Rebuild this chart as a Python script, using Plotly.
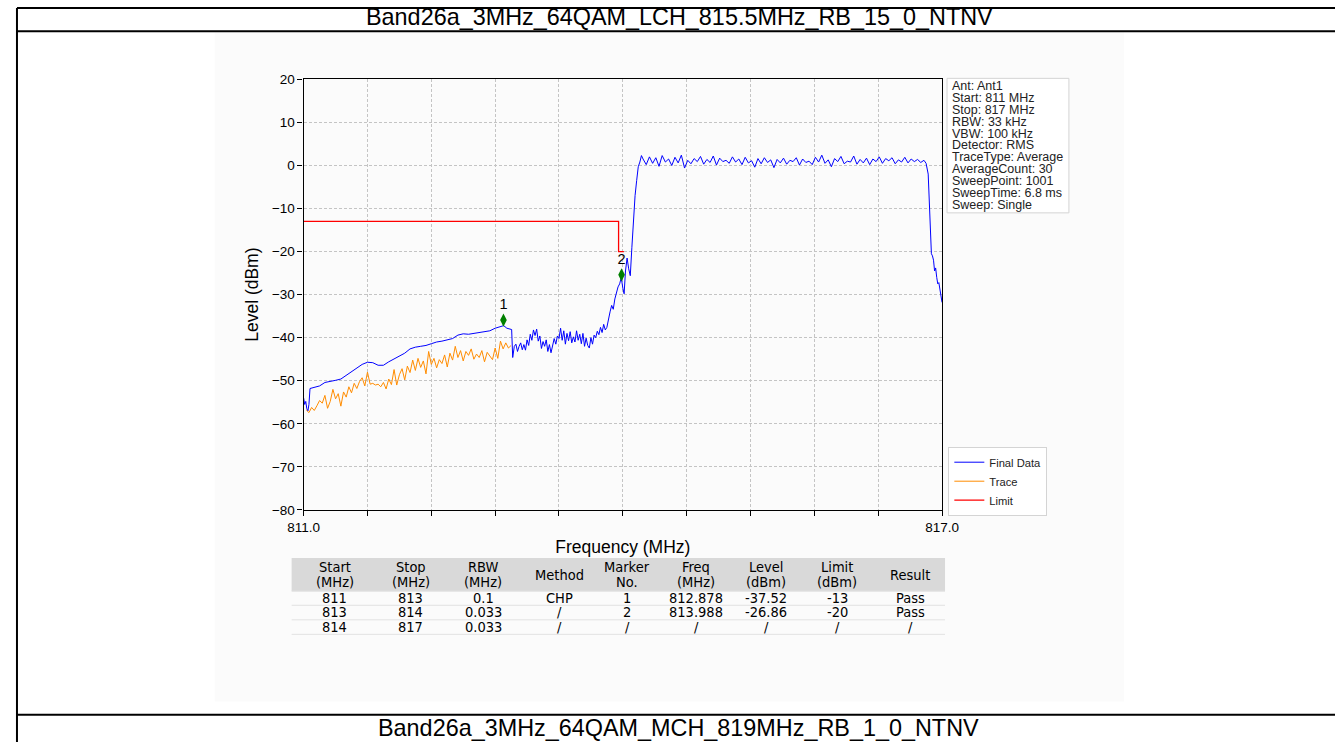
import plotly.graph_objects as go

# The photographed picture shows the page scaled by ~0.9765 and offset by (16, 8) px,
# so the figure is laid out in page pixels derived from the reference picture's pixels.
IMG_SCALE, IMG_OX, IMG_OY = 0.9765, 16.1, 7.9
FW, FH = 1352, 752

doc_title = "Band26a_3MHz_64QAM_LCH_815.5MHz_RB_15_0_NTNV"
next_title = "Band26a_3MHz_64QAM_MCH_819MHz_RB_1_0_NTNV"

# ---------------- data ----------------
final_freq = [
    811.00, 811.01, 811.02, 811.03, 811.04, 811.05, 811.06, 811.10, 811.15, 811.20,
    811.25, 811.30, 811.35, 811.40, 811.45, 811.50, 811.55, 811.60, 811.65, 811.70,
    811.75, 811.80, 811.85, 811.90, 811.95, 812.00, 812.05, 812.10, 812.15, 812.20,
    812.25, 812.30, 812.35, 812.40, 812.45, 812.50, 812.55, 812.60, 812.65, 812.70,
    812.75, 812.80, 812.85, 812.88, 812.91, 812.94, 812.955,
    812.965, 812.980, 812.995, 813.010, 813.025, 813.040, 813.055, 813.070, 813.085, 813.100,
    813.115, 813.130, 813.145, 813.160, 813.175, 813.190, 813.205, 813.220, 813.235, 813.250,
    813.265, 813.280, 813.295, 813.310, 813.325, 813.340, 813.355, 813.370, 813.385, 813.400,
    813.415, 813.430, 813.445, 813.460, 813.475, 813.490, 813.505, 813.520, 813.535, 813.550,
    813.565, 813.580, 813.595, 813.610, 813.625, 813.640, 813.655, 813.670, 813.685, 813.700,
    813.715, 813.730, 813.745, 813.760, 813.775, 813.790, 813.805, 813.820, 813.835, 813.850,
    813.865,
    813.880, 813.895, 813.910, 813.925, 813.940, 813.955, 813.970, 813.985, 814.000, 814.012,
    814.025, 814.040, 814.055, 814.070, 814.085, 814.100, 814.115, 814.130, 814.145, 814.160,
    814.175, 814.190,
    814.22, 814.25, 814.28, 814.31, 814.34, 814.37, 814.40, 814.43, 814.46, 814.49,
    814.52, 814.55, 814.58, 814.61, 814.64, 814.67, 814.70, 814.73, 814.76, 814.79,
    814.82, 814.85, 814.88, 814.91, 814.94, 814.97, 815.00, 815.03, 815.06, 815.09,
    815.12, 815.15, 815.18, 815.21, 815.24, 815.27, 815.30, 815.33, 815.36, 815.39,
    815.42, 815.45, 815.48, 815.51, 815.54, 815.57, 815.60, 815.63, 815.66, 815.69,
    815.72, 815.75, 815.78, 815.81, 815.84, 815.87, 815.90, 815.93, 815.96, 815.99,
    816.02, 816.05, 816.08, 816.11, 816.14, 816.17, 816.20, 816.23, 816.26, 816.29,
    816.32, 816.35, 816.38, 816.41, 816.44, 816.47, 816.50, 816.53, 816.56, 816.59,
    816.62, 816.65, 816.68, 816.71, 816.74, 816.77, 816.80, 816.83, 816.85,
    816.87, 816.88, 816.89, 816.90, 816.91, 816.92, 816.93, 816.94, 816.95, 816.96,
    816.97, 816.98, 816.99, 817.00,
]
final_level = [
    -54.0, -55.5, -54.8, -56.5, -57.0, -55.5, -51.8, -51.6, -51.2, -50.4,
    -50.2, -49.9, -49.6, -48.8, -48.0, -47.2, -46.2, -45.7, -45.8, -46.4,
    -46.4, -45.6, -44.9, -44.3, -43.6, -42.6, -42.2, -42.0, -41.8, -41.4,
    -41.0, -40.8, -40.5, -40.2, -39.4, -39.1, -39.2, -39.0, -38.8, -38.7,
    -38.4, -37.8, -37.4, -37.2, -37.8, -38.0, -38.1,
    -44.6, -42.0, -41.5, -43.2, -42.0, -41.2, -42.8, -41.6, -42.9, -40.5,
    -41.8, -39.2, -40.6, -38.2, -39.5, -38.0, -40.8, -39.6, -42.5, -40.9,
    -42.0, -40.5, -43.2, -41.6, -43.5, -42.0, -40.2, -41.5, -39.6, -40.2,
    -37.8, -40.6, -38.4, -41.5, -39.0, -40.7, -38.6, -41.2, -39.8, -41.0,
    -38.4, -40.6, -39.2, -41.4, -39.0, -42.0, -40.1, -41.8, -42.4, -40.0,
    -41.5, -39.4, -40.0, -38.5, -39.3, -37.6, -38.8, -36.9, -38.2, -37.6,
    -35.5,
    -34.0, -32.5, -33.4, -31.0, -29.5, -28.2, -27.5, -26.0, -28.5, -29.8,
    -24.5, -21.5, -24.0, -25.6, -19.0, -12.0, -7.0, -3.5, -0.3, 0.8,
    2.3, 1.5,
    0.2, 2.0, 0.5, 1.8, -0.2, 2.3, 0.8, 1.5, 0.0, 1.9,
    0.6, 2.4, -0.6, 1.2, 0.4, 1.6, 0.9, 2.1, 0.3, 1.4,
    0.7, 2.2, 0.1, 1.7, 0.9, 1.2, 0.5, 2.0, 0.8, 1.5,
    0.2, 1.9, 0.6, 1.1, -0.4, 1.6, 0.4, 1.8, 0.7, 1.3,
    -0.5, 1.4, 0.6, 1.7, 0.3, 1.2, 0.9, 1.8, 0.1, 1.5,
    0.7, 1.0, 0.2, 1.9, 0.8, 2.4, 0.5, 1.3, -0.3, 1.6,
    0.9, 2.1, 0.4, 1.0, 0.8, 2.2, 0.3, 1.4, 0.6, 1.7,
    0.2, 1.5, 0.9, 2.0, 0.5, 1.6, 1.1, 1.8, 0.4, 1.3,
    0.8, 1.9, 0.6, 1.5, 0.9, 1.4, 0.7, 1.2, 0.5,
    -2.0, -8.0, -15.0, -20.5, -21.0, -22.0, -24.5, -23.8, -26.0, -27.5,
    -27.2, -29.0, -30.5, -31.8,
]

trace_freq = [
    811.025, 811.050, 811.075, 811.100, 811.125, 811.150, 811.175, 811.200, 811.225, 811.250,
    811.275, 811.300, 811.325, 811.350, 811.375, 811.400, 811.425, 811.450, 811.475, 811.500,
    811.525, 811.550, 811.575, 811.600, 811.625, 811.650, 811.675, 811.700, 811.725, 811.750,
    811.775, 811.800, 811.825, 811.850, 811.875, 811.900, 811.925, 811.950, 811.975, 812.000,
    812.025, 812.050, 812.075, 812.100, 812.125, 812.150, 812.175, 812.200, 812.225, 812.250,
    812.275, 812.300, 812.325, 812.350, 812.375, 812.400, 812.425, 812.450, 812.475, 812.500,
    812.525, 812.550, 812.575, 812.600, 812.625, 812.650, 812.675, 812.700, 812.725, 812.750,
    812.775, 812.800, 812.825, 812.850, 812.875, 812.900, 812.925, 812.950,
]
trace_level = [
    -56.8, -57.4, -56.2, -56.9, -55.8, -54.6, -55.2, -53.4, -56.4, -54.8,
    -52.0, -54.2, -53.0, -55.9, -52.6, -53.8, -51.4, -52.8, -50.6, -51.8,
    -50.2, -49.3, -51.2, -48.0, -50.8, -50.6, -51.0, -50.8, -51.4, -50.4,
    -51.9, -49.6, -50.9, -47.4, -51.0, -48.6, -47.2, -49.8, -46.6, -48.1,
    -45.2, -47.6, -44.8, -46.9, -45.4, -48.4, -43.2, -46.2, -44.8, -47.0,
    -45.1, -46.0, -44.0, -46.8, -43.6, -45.2, -42.0, -44.6, -43.0, -45.4,
    -43.2, -44.1, -42.6, -45.0, -43.8, -44.6, -43.0, -45.6, -43.4, -44.2,
    -45.1, -42.4, -44.8, -40.8, -42.6, -41.2, -42.4, -41.8,
]

limit_freq = [811.0, 813.96, 813.96, 814.01]
limit_level = [-13.0, -13.0, -20.0, -20.0]

marker_freq = [812.878, 813.988]
marker_level = [-35.9, -25.4]
marker_label = ["1", "2"]

x_tick_vals = [811.0, 811.6, 812.2, 812.8, 813.4, 814.0, 814.6, 815.2, 815.8, 816.4, 817.0]
x_tick_text = ["811.0", "", "", "", "", "", "", "", "", "", "817.0"]
y_tick_vals = [-80, -70, -60, -50, -40, -30, -20, -10, 0, 10, 20]

info_lines = [
    "Ant: Ant1", "Start: 811 MHz", "Stop: 817 MHz", "RBW: 33 kHz", "VBW: 100 kHz",
    "Detector: RMS", "TraceType: Average", "AverageCount: 30", "SweepPoint: 1001",
    "SweepTime: 6.8 ms", "Sweep: Single",
]

table_header = [["Start", "(MHz)"], ["Stop", "(MHz)"], ["RBW", "(MHz)"], ["Method"],
                ["Marker", "No."], ["Freq", "(MHz)"], ["Level", "(dBm)"], ["Limit", "(dBm)"],
                ["Result"]]
col_start = ["811", "813", "814"]
col_stop = ["813", "814", "817"]
col_rbw = ["0.1", "0.033", "0.033"]
col_method = ["CHP", "/", "/"]
col_marker = ["1", "2", "/"]
col_freq = ["812.878", "813.988", "/"]
col_level = ["-37.52", "-26.86", "/"]
col_limit = ["-13", "-20", "/"]
col_result = ["Pass", "Pass", "/"]
table_columns = [col_start, col_stop, col_rbw, col_method, col_marker,
                 col_freq, col_level, col_limit, col_result]

# ---------------- helpers (reference-picture pixel -> paper) ----------------
def px(xi):
    return ((xi - IMG_OX) / IMG_SCALE) / FW

def py(yi):
    return 1 - ((yi - IMG_OY) / IMG_SCALE) / FH

SANS = "Liberation Sans, Arial, sans-serif"
NARROW = "Liberation Sans Narrow, Arial Narrow, DejaVu Sans Condensed, sans-serif"

fig = go.Figure()

fig.add_trace(go.Scatter(x=final_freq, y=final_level, mode="lines", name="Final Data",
                         line=dict(color="#0000ff", width=1)))
fig.add_trace(go.Scatter(x=trace_freq, y=trace_level, mode="lines", name="Trace",
                         line=dict(color="#ff8c00", width=1)))
fig.add_trace(go.Scatter(x=limit_freq, y=limit_level, mode="lines", name="Limit",
                         line=dict(color="#ff0000", width=1.3)))
fig.add_trace(go.Scatter(x=marker_freq, y=marker_level, mode="markers+text", text=marker_label,
                         textposition="top center", showlegend=False,
                         textfont=dict(family=SANS, size=14.5, color="black"),
                         marker=dict(symbol="diamond-tall", size=9.5, color="#008000")))

shapes = []
# faint embedded-picture background
shapes.append(dict(type="rect", xref="paper", yref="paper", x0=px(215), x1=px(1125),
                   y0=py(700), y1=py(33), fillcolor="#fbfbfb", line=dict(width=0), layer="below"))
# document table borders
edge_x, edge_y = 1.0 / FW, 1 - 1.0 / FH
for yy in (None, 32, 713):
    y_paper = edge_y if yy is None else py(yy)
    shapes.append(dict(type="line", xref="paper", yref="paper", x0=edge_x, x1=1,
                       y0=y_paper, y1=y_paper, line=dict(color="black", width=2)))
shapes.append(dict(type="line", xref="paper", yref="paper", x0=edge_x, x1=edge_x,
                   y0=edge_y, y1=0, line=dict(color="black", width=2)))
# info box
shapes.append(dict(type="rect", xref="paper", yref="paper", x0=px(948), x1=px(1070),
                   y0=py(213), y1=py(79), fillcolor="white",
                   line=dict(color="#d4d4d4", width=1)))

annotations = []
annotations.append(dict(text=doc_title, xref="paper", yref="paper", x=px(680), y=py(17.5),
                        showarrow=False, xanchor="center", yanchor="middle",
                        font=dict(family=SANS, size=23.4, color="black")))
annotations.append(dict(text=next_title, xref="paper", yref="paper", x=px(679), y=py(726),
                        showarrow=False, xanchor="center", yanchor="middle",
                        font=dict(family=SANS, size=23.4, color="black")))
for i, line in enumerate(info_lines):
    annotations.append(dict(text=line, xref="paper", yref="paper", x=px(951),
                            y=py(86.5 + i * 11.87), showarrow=False, xanchor="left",
                            yanchor="middle", font=dict(family=SANS, size=12.5, color="#222")))

# results table
tbl_x0, tbl_x1 = 292, 946
col_centers = [335, 411, 484, 560, 628, 697, 767, 838, 911]
hdr_y0, hdr_y1 = 557, 590
hdr_line_y = [566, 581]
row_y = [596.5, 611, 625.5]
row_lines = [590, 604, 618.5, 633]
shapes.append(dict(type="rect", xref="paper", yref="paper", x0=px(tbl_x0), x1=px(tbl_x1),
                   y0=py(hdr_y1), y1=py(hdr_y0), fillcolor="#d9d9d9", line=dict(width=0)))
for yy in row_lines:
    shapes.append(dict(type="line", xref="paper", yref="paper", x0=px(tbl_x0), x1=px(tbl_x1),
                       y0=py(yy), y1=py(yy), line=dict(color="#e2e2e2", width=1)))
for c, head in enumerate(table_header):
    cx = col_centers[c]
    if len(head) == 1:
        ys = [(hdr_line_y[0] + hdr_line_y[1]) / 2]
    else:
        ys = hdr_line_y
    for part, yy in zip(head, ys):
        annotations.append(dict(text=part, xref="paper", yref="paper", x=px(cx), y=py(yy),
                                showarrow=False, xanchor="center", yanchor="middle",
                                font=dict(family=NARROW, size=14.5, color="black")))
    for r, val in enumerate(table_columns[c]):
        annotations.append(dict(text=val, xref="paper", yref="paper", x=px(cx),
                                y=py(row_y[r]), showarrow=False,
                                xanchor="center", yanchor="middle",
                                font=dict(family=NARROW, size=14.5, color="black")))

fig.update_layout(
    width=FW, height=FH, margin=dict(l=0, r=0, t=0, b=0),
    paper_bgcolor="white", plot_bgcolor="white",
    shapes=shapes, annotations=annotations,
    showlegend=True,
    legend=dict(x=px(949.3), y=py(446), xanchor="left", yanchor="top",
                bgcolor="white", bordercolor="#d4d4d4", borderwidth=1,
                font=dict(family=SANS, size=11.2, color="#222"), tracegroupgap=0),
    xaxis=dict(domain=[px(304), px(943)], range=[811, 817],
               tickvals=x_tick_vals, ticktext=x_tick_text,
               ticks="outside", ticklen=5, tickcolor="black", tickwidth=1,
               showline=True, linecolor="black", linewidth=1.3, mirror=True,
               showgrid=True, gridcolor="#c4c4c4", griddash="3px,2px", gridwidth=1,
               zeroline=False,
               tickfont=dict(family=SANS, size=13.5, color="black"),
               title=dict(text="Frequency (MHz)", standoff=6,
                          font=dict(family=SANS, size=17.5, color="black"))),
    yaxis=dict(domain=[py(509), py(80)], range=[-80, 20],
               tickvals=y_tick_vals,
               ticks="outside", ticklen=5, tickcolor="black", tickwidth=1,
               showline=True, linecolor="black", linewidth=1.3, mirror=True,
               showgrid=True, gridcolor="#c4c4c4", griddash="3px,2px", gridwidth=1,
               zeroline=False,
               tickfont=dict(family=SANS, size=13.5, color="black"),
               title=dict(text="Level (dBm)", standoff=8,
                          font=dict(family=SANS, size=17.5, color="black"))),
)

fig.write_html("out.html", config={"displayModeBar": False},
               post_script="document.body.style.margin='0';document.body.style.overflow='hidden';")
